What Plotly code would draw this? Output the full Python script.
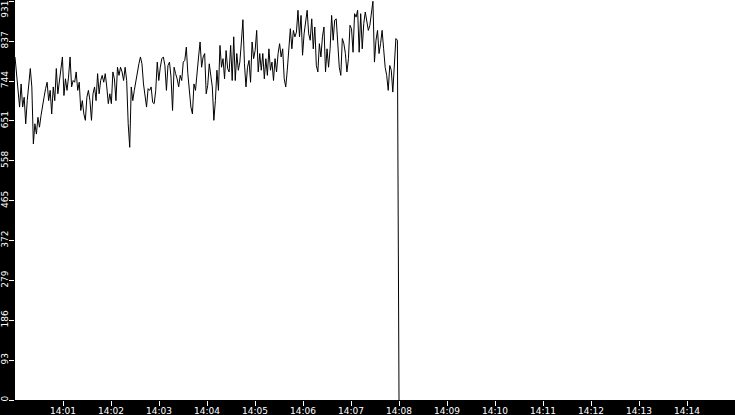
import pandas as pd
import plotly.graph_objs as go

# значення (приблизно кожні ~2 с, 14:00:00 - 14:07:58)
values = [
    801, 766, 731, 684, 738, 684, 707, 645, 699, 738, 774, 731, 598, 645, 621, 660,
    637, 664, 692, 707, 727, 742, 699, 723, 668, 731, 699, 774, 715, 746, 785, 801,
    711, 750, 723, 754, 801, 731, 746, 742, 766, 723, 742, 676, 699, 668, 653, 707,
    723, 699, 653, 715, 731, 699, 762, 715, 746, 758, 742, 762, 731, 692, 715, 692,
    766, 750, 699, 777, 758, 777, 766, 746, 777, 746, 645, 590, 731, 699, 723, 746,
    766, 785, 801, 785, 738, 707, 684, 727, 723, 731, 695, 692, 723, 789, 746, 777,
    797, 801, 781, 723, 781, 789, 754, 676, 777, 762, 750, 731, 758, 746, 789, 793,
    824, 762, 723, 684, 668, 738, 723, 770, 801, 836, 777,
    801, 809, 715, 735, 785, 754, 731, 653, 699, 770, 723, 828, 777, 797, 750, 816,
    774, 766, 828, 746, 848, 746, 809, 770, 789, 836, 888, 785, 731, 777, 793, 742,
    836, 797, 816, 863, 766, 809, 770, 809, 750, 797, 758, 820, 770, 789, 746, 797,
    766, 809, 832, 801, 820, 750, 731, 770, 820, 867, 820, 863, 848, 859, 910, 848,
    898, 805, 855, 879, 910, 855, 840, 890, 820, 871, 781, 766, 832, 801, 848, 871,
    766, 820, 777, 820, 898, 840, 887, 890, 840, 777, 758, 844, 832, 809, 766, 797,
    875, 867, 812, 902, 894, 910, 812, 902, 820, 879, 906, 887, 863, 875, 910, 931,
    789, 840, 863, 809, 832, 863, 820, 777, 758, 723, 781, 770, 719, 777, 844, 840,
]
# обрив наприкінці
tail_times = ['2024-01-01 14:07:59', '2024-01-01 14:08:00']
tail_values = [418, 0]

y_tickvals = [0, 93.1, 186.2, 279.3, 372.4, 465.5, 558.6, 651.7, 744.8, 837.9, 931]
y_ticktext = ['0', '93', '186', '279', '372', '465', '558', '651', '744', '837', '931']
x_ticks = ['14:01', '14:02', '14:03', '14:04', '14:05', '14:06', '14:07',
           '14:08', '14:09', '14:10', '14:11', '14:12', '14:13', '14:14']

times = pd.date_range('2024-01-01 14:00:00', '2024-01-01 14:07:58', periods=len(values))
times = list(times) + list(pd.to_datetime(tail_times))
vals = values + tail_values

fig = go.Figure()
fig.add_trace(go.Scatter(x=times, y=vals, mode='lines',
                         line=dict(color='black', width=1), hoverinfo='skip'))

fig.update_layout(
    width=735,
    height=415,
    margin=dict(l=15, r=0, t=0, b=15),
    paper_bgcolor='black',
    plot_bgcolor='white',
    showlegend=False,
    font=dict(family='DejaVu Sans', size=9, color='white'),
)
fig.update_xaxes(
    range=['2024-01-01 14:00:00', '2024-01-01 14:15:00'],
    tickvals=['2024-01-01 ' + t + ':00' for t in x_ticks],
    ticktext=x_ticks,
    ticks='outside', ticklen=5, tickcolor='white', tickwidth=1,
    ticklabelstandoff=-3,
    showgrid=False, zeroline=False, showline=False, automargin=False,
)
# верхня мітка 931 малюється окремо, щоб не обрізалась краєм
fig.update_yaxes(
    range=[0, 934],
    tickvals=y_tickvals,
    ticktext=y_ticktext[:-1] + [''],
    tickangle=-90,
    ticks='outside', ticklen=5, tickcolor='white', tickwidth=1,
    ticklabelstandoff=-3,
    showgrid=False, zeroline=False, showline=False, automargin=False,
)
fig.add_annotation(
    text=y_ticktext[-1], textangle=-90, showarrow=False,
    xref='paper', x=-9.5 / 720, xanchor='center',
    yref='y', y=y_tickvals[-1], yanchor='middle', yshift=-8,
    font=dict(family='DejaVu Sans', size=9, color='white'),
)

# прибрати відступ body, щоб графік займав усе вікно
fig.write_html("out.html", config={'displayModeBar': False},
               post_script="document.body.style.margin='0';document.body.style.overflow='hidden';")
